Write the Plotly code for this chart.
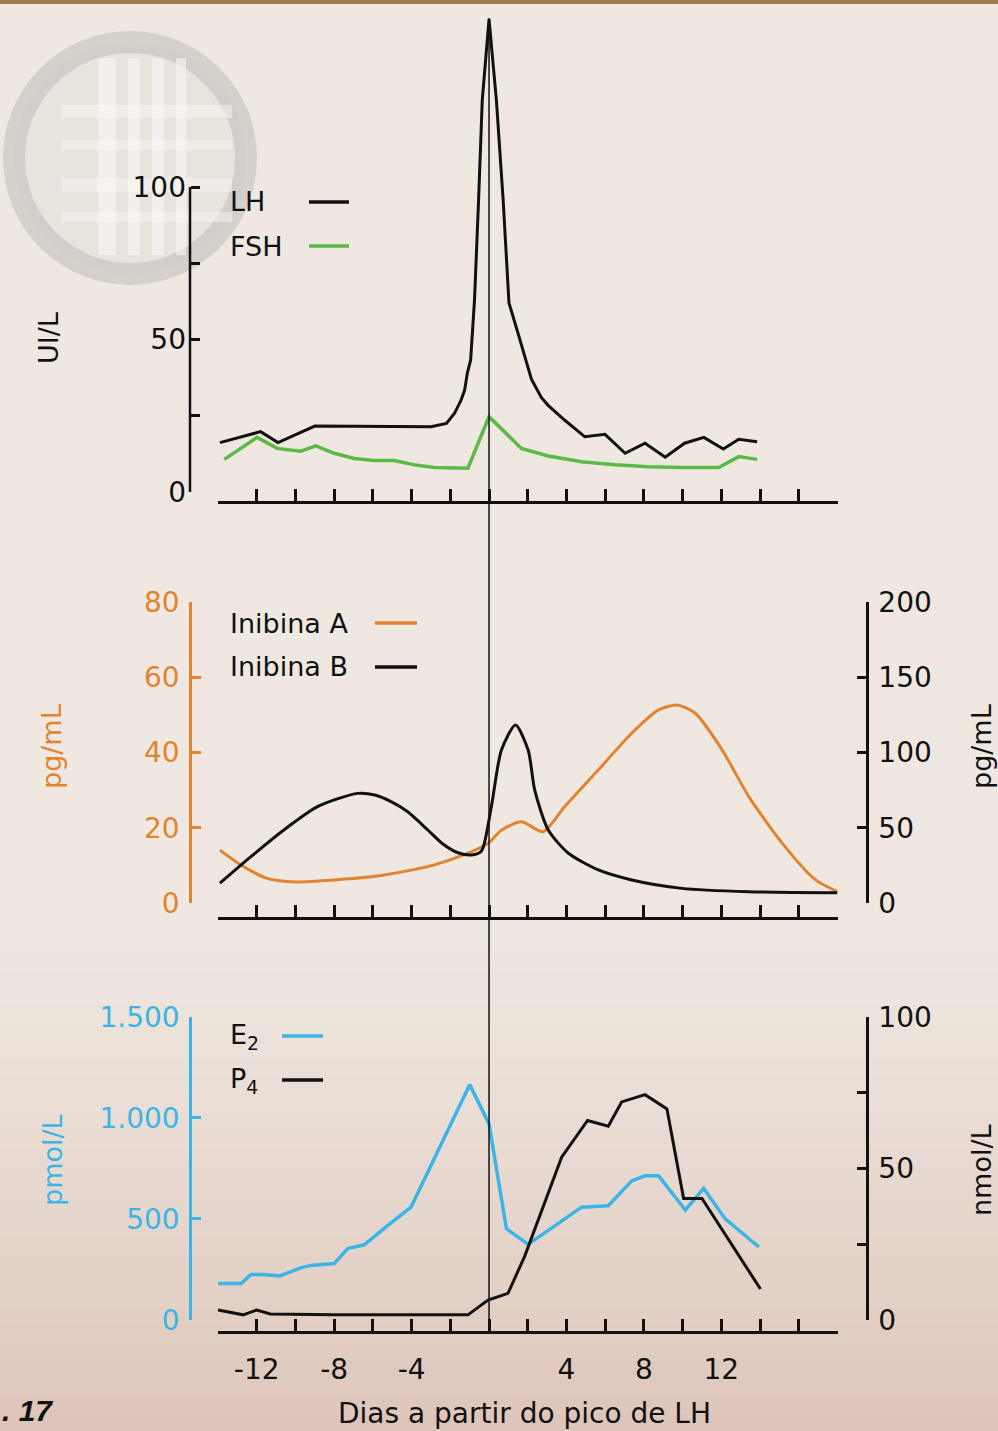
import plotly.graph_objects as go

# ---------------- data ----------------
LH_DAYS = [-13.9, -11.8, -10.9, -9.0, -3.0, -2.2, -1.78, -1.44, -1.26, -1.12, -0.95, -0.75, -0.54, -0.35, 0.0,
           0.38, 0.73, 1.03, 1.5, 2.0, 2.19, 2.7, 3.04, 3.9, 4.95, 5.99, 7.03, 8.06, 9.1, 10.1, 11.1, 12.1, 12.9, 13.85]
LH_VALS = [16.2, 19.8, 16.2, 21.6, 21.4, 22.5, 25.8, 30.2, 33.4, 39.0, 43.3, 63.0, 95.7, 128.5, 155.0,
           128.5, 95.7, 62.0, 52.0, 41.0, 37.0, 31.0, 28.5, 23.6, 18.1, 18.9, 12.7, 16.0, 11.4, 16.0, 17.9, 14.1, 17.3, 16.5]

FSH_DAYS = [-13.67, -11.98, -10.95, -9.73, -8.95, -8.0, -6.96, -5.93, -4.89, -3.85, -2.82, -1.09, 0.0,
            1.67, 3.06, 4.78, 6.5, 8.2, 9.96, 11.87, 12.9, 13.85]
FSH_VALS = [10.7, 17.9, 14.3, 13.4, 15.1, 12.7, 11.0, 10.3, 10.3, 8.9, 8.0, 7.8, 24.7,
            14.3, 11.8, 9.9, 8.9, 8.3, 8.0, 8.0, 11.6, 10.7]

INHA_DAYS = [-13.9, -12.83, -11.45, -10.24, -8.0, -5.41, -2.82, -1.09, -0.05, 0.64, 1.67, 2.8, 3.9,
             5.65, 7.37, 8.76, 9.7, 10.65, 12.04, 13.42, 15.15, 16.87, 18.0]
INHA_VALS = [14.1, 10.2, 6.6, 5.7, 6.2, 7.5, 10.2, 13.3, 15.9, 19.4, 21.6, 19.0, 25.6,
             35.4, 45.1, 51.3, 52.6, 50.4, 40.7, 28.3, 15.9, 6.2, 3.1]

INHB_DAYS = [-13.9, -12.3, -10.6, -8.86, -6.79, -5.9, -5.06, -4.2, -3.16, -2.4, -1.6, -0.92, -0.4, 0.12,
             0.64, 1.37, 2.02, 2.36, 3.06, 4.1, 5.65, 7.37, 9.96, 13.42, 18.0]
INHB_VALS = [13.3, 30.9, 48.6, 64.1, 72.9, 71.8, 67.4, 60.7, 48.6, 39.5, 33.5, 32.0, 34.5, 64.1,
             101.7, 118.2, 101.7, 75.1, 48.6, 33.2, 22.1, 15.5, 9.9, 7.7, 7.0]

E2_DAYS = [-14.0, -12.8, -12.3, -11.7, -10.8, -9.73, -9.2, -8.0, -7.3, -6.45, -5.24, -4.03, -1.0, 0.0,
           0.9, 2.02, 4.78, 6.16, 7.37, 8.06, 8.76, 10.14, 11.09, 12.2, 13.94]
E2_VALS = [180, 180, 225, 225, 218, 258, 270, 279, 353, 372, 467, 558, 1164, 970,
           451, 374, 558, 565, 688, 713, 713, 544, 651, 500, 361]

P4_DAYS = [-14.0, -12.7, -12.0, -11.3, -8.0, -1.09, -0.05, 0.98, 1.84, 2.88, 3.75, 5.09, 6.16, 6.85,
           8.06, 9.19, 10.05, 11.0, 14.02]
P4_VALS = [3.3, 1.7, 3.3, 2.0, 1.7, 1.7, 6.6, 8.8, 21.0, 38.7, 53.7, 65.8, 63.9, 71.9,
           74.3, 69.6, 40.1, 40.1, 10.2]

X_TICKS = list(range(-14, 19, 2))
X_LABEL_VALS = [-12, -8, -4, 4, 8, 12]
X_LABEL_TEXT = ["-12", "-8", "-4", "4", "8", "12"]

# ---------------- style ----------------
W, H = 998, 1431
BG = "#efe8e1"
ORANGE = "#E0842F"
GREEN = "#5BB947"
BLUE = "#3BB5E6"
BLACK = "#111111"
FONT = "DejaVu Sans"
TICK_FONT_SIZE = 28


def fx(p):
    return p / W


def fy(p):
    return 1 - p / H


fig = go.Figure()

fig.add_trace(go.Scatter(x=LH_DAYS, y=LH_VALS, mode="lines", name="LH",
                         line=dict(color=BLACK, width=3), xaxis="x", yaxis="y"))
fig.add_trace(go.Scatter(x=FSH_DAYS, y=FSH_VALS, mode="lines", name="FSH",
                         line=dict(color=GREEN, width=3.5), xaxis="x", yaxis="y"))
fig.add_trace(go.Scatter(x=INHA_DAYS, y=INHA_VALS, mode="lines", name="Inibina A",
                         line=dict(color=ORANGE, width=3, shape="spline", smoothing=0.7),
                         xaxis="x2", yaxis="y2"))
fig.add_trace(go.Scatter(x=INHB_DAYS, y=INHB_VALS, mode="lines", name="Inibina B",
                         line=dict(color=BLACK, width=3, shape="spline", smoothing=0.7),
                         xaxis="x2", yaxis="y3"))
fig.add_trace(go.Scatter(x=E2_DAYS, y=E2_VALS, mode="lines", name="E2",
                         line=dict(color=BLUE, width=3.5), xaxis="x3", yaxis="y4"))
fig.add_trace(go.Scatter(x=P4_DAYS, y=P4_VALS, mode="lines", name="P4",
                         line=dict(color=BLACK, width=3), xaxis="x3", yaxis="y5"))

XDOM = [fx(218), fx(837.5)]


def xaxis(pos_px, labels=False):
    d = dict(domain=XDOM, range=[-14, 18], anchor="free", position=fy(pos_px),
             showline=True, linecolor=BLACK, linewidth=2.5,
             ticks="inside", ticklen=12, tickwidth=2.5, tickcolor=BLACK,
             tickfont=dict(family=FONT, size=TICK_FONT_SIZE, color=BLACK),
             ticklabelstandoff=12,
             showgrid=False, zeroline=False, fixedrange=True)
    if labels:
        d.update(tickmode="array", tickvals=X_LABEL_VALS, ticktext=X_LABEL_TEXT, showticklabels=True,
                 minor=dict(tickmode="array", tickvals=X_TICKS, ticks="inside", ticklen=12,
                            tickwidth=2.5, tickcolor=BLACK, showgrid=False))
    else:
        d.update(tickmode="array", tickvals=X_TICKS, showticklabels=False)
    return d


def yaxis(color, rng, vals, text, pos_px, side="left", dom=None, overlay=None, line=True, minor_vals=None):
    d = dict(range=rng, anchor="free", position=fx(pos_px), side=side,
             showline=line, linecolor=color, linewidth=2.5,
             ticks="inside", ticklen=9, tickwidth=2.5, tickcolor=color,
             tickmode="array", tickvals=vals, ticktext=text, ticklabelstandoff=4,
             tickfont=dict(family=FONT, size=TICK_FONT_SIZE, color=color),
             showgrid=False, zeroline=False, fixedrange=True)
    if minor_vals is not None:
        d["minor"] = dict(tickmode="array", tickvals=minor_vals, ticks="inside", ticklen=9,
                          tickwidth=2.5, tickcolor=color, showgrid=False)
    if dom is not None:
        d["domain"] = dom
    if overlay is not None:
        d["overlaying"] = overlay
    return d


fig.update_layout(
    xaxis=xaxis(502),
    xaxis2=xaxis(918),
    xaxis3=xaxis(1332, labels=True),
    yaxis=yaxis(BLACK, [0, 160], [0, 50, 100], ["0", "50", "100"], 190,
                dom=[fy(492), fy(4)], line=False, minor_vals=[25, 75]),
    yaxis2=yaxis(ORANGE, [0, 80], [0, 20, 40, 60, 80], ["0", "20", "40", "60", "80"], 190,
                 dom=[fy(903.3), fy(601.7)]),
    yaxis3=yaxis(BLACK, [0, 200], [0, 50, 100, 150, 200], ["0", "50", "100", "150", "200"], 867,
                 side="right", overlay="y2"),
    yaxis4=yaxis(BLUE, [0, 1500], [0, 500, 1000, 1500], ["0", "500", "1.000", "1.500"], 190,
                 dom=[fy(1320), fy(1016.7)]),
    yaxis5=yaxis(BLACK, [0, 100], [0, 50, 100], ["0", "50", "100"], 867,
                 side="right", overlay="y4", minor_vals=[25, 75]),
)

shapes = []
# background tint toward the bottom (parchment look)
n_bands = 30
top_px, bot_px = 900, 1431
for i in range(n_bands):
    t = (i + 0.5) / n_bands
    a = 0.34 * t ** 1.3
    y0 = top_px + (bot_px - top_px) * i / n_bands
    y1 = top_px + (bot_px - top_px) * (i + 1) / n_bands
    shapes.append(dict(type="rect", xref="paper", yref="paper", x0=0, x1=1, y0=fy(y1), y1=fy(y0),
                       fillcolor=f"rgba(190,130,110,{a:.3f})", line=dict(width=0), layer="below"))
# top border
shapes.append(dict(type="rect", xref="paper", yref="paper", x0=0, x1=1, y0=fy(4), y1=1,
                   fillcolor="#9c7b4c", line=dict(width=0), layer="below"))
# watermark logo (ring with grid)
shapes.append(dict(type="circle", xref="paper", yref="paper", x0=fx(14), x1=fx(246), y0=fy(274), y1=fy(42),
                   fillcolor="rgba(225,221,218,0.45)", line=dict(color="rgba(185,180,177,0.45)", width=22),
                   layer="below"))
for xa, xb in [(98, 116), (128, 140), (152, 164), (176, 186)]:
    shapes.append(dict(type="rect", xref="paper", yref="paper", x0=fx(xa), x1=fx(xb), y0=fy(255), y1=fy(58),
                       fillcolor="rgba(250,248,246,0.55)", line=dict(width=0), layer="below"))
for ya, yb in [(105, 118), (140, 150), (178, 192), (212, 222)]:
    shapes.append(dict(type="rect", xref="paper", yref="paper", x0=fx(62), x1=fx(232), y0=fy(yb), y1=fy(ya),
                       fillcolor="rgba(250,248,246,0.45)", line=dict(width=0), layer="below"))
# top-panel y axis line (0 to 100 only)
shapes.append(dict(type="line", xref="paper", yref="y", x0=fx(190), x1=fx(190), y0=0, y1=100,
                   line=dict(color=BLACK, width=2.5)))
# LH peak reference line
shapes.append(dict(type="line", xref="x", yref="paper", x0=0, x1=0, y0=fy(1332), y1=fy(18),
                   line=dict(color=BLACK, width=1.5)))

annotations = []


def legend_item(text, color, x_text, x_l0, x_l1, y_px):
    annotations.append(dict(text=text, xref="paper", yref="paper", x=fx(x_text), y=fy(y_px),
                            xanchor="left", yanchor="middle", showarrow=False,
                            font=dict(family=FONT, size=27, color=BLACK)))
    shapes.append(dict(type="line", xref="paper", yref="paper", x0=fx(x_l0), x1=fx(x_l1),
                       y0=fy(y_px), y1=fy(y_px), line=dict(color=color, width=3.5)))


legend_item("LH", BLACK, 228, 309, 349, 202)
legend_item("FSH", GREEN, 228, 309, 349, 246)
legend_item("Inibina A", ORANGE, 228, 375, 417, 623)
legend_item("Inibina B", BLACK, 228, 375, 417, 667)
legend_item("E<sub>2</sub>", BLUE, 228, 282, 323, 1036)
legend_item("P<sub>4</sub>", BLACK, 228, 282, 323, 1080)


def axis_title(text, color, x_px, y_px):
    annotations.append(dict(text=text, xref="paper", yref="paper", x=fx(x_px), y=fy(y_px),
                            xanchor="center", yanchor="middle", textangle=-90, showarrow=False,
                            font=dict(family=FONT, size=27, color=color)))


axis_title("UI/L", BLACK, 49, 338)
axis_title("pg/mL", ORANGE, 51, 747)
axis_title("pg/mL", BLACK, 981, 747)
axis_title("pmol/L", BLUE, 52, 1160)
axis_title("nmol/L", BLACK, 981, 1170)

annotations.append(dict(text="Dias a partir do pico de LH", xref="paper", yref="paper",
                        x=fx(524), y=fy(1413), xanchor="center", yanchor="middle", showarrow=False,
                        font=dict(family=FONT, size=28, color=BLACK)))
annotations.append(dict(text=". 17", xref="paper", yref="paper", x=0, y=fy(1410),
                        xanchor="left", yanchor="middle", showarrow=False,
                        font=dict(family="Liberation Sans", size=30, color=BLACK,
                                  weight="bold", style="italic")))

fig.update_layout(
    width=W, height=H, margin=dict(l=0, r=0, t=0, b=0, pad=0, autoexpand=False),
    paper_bgcolor=BG, plot_bgcolor="rgba(0,0,0,0)",
    showlegend=False, shapes=shapes, annotations=annotations,
    font=dict(family=FONT, color=BLACK),
)

fig.write_html("out.html", config={"displayModeBar": False},
               post_script="document.body.style.margin='0';")
